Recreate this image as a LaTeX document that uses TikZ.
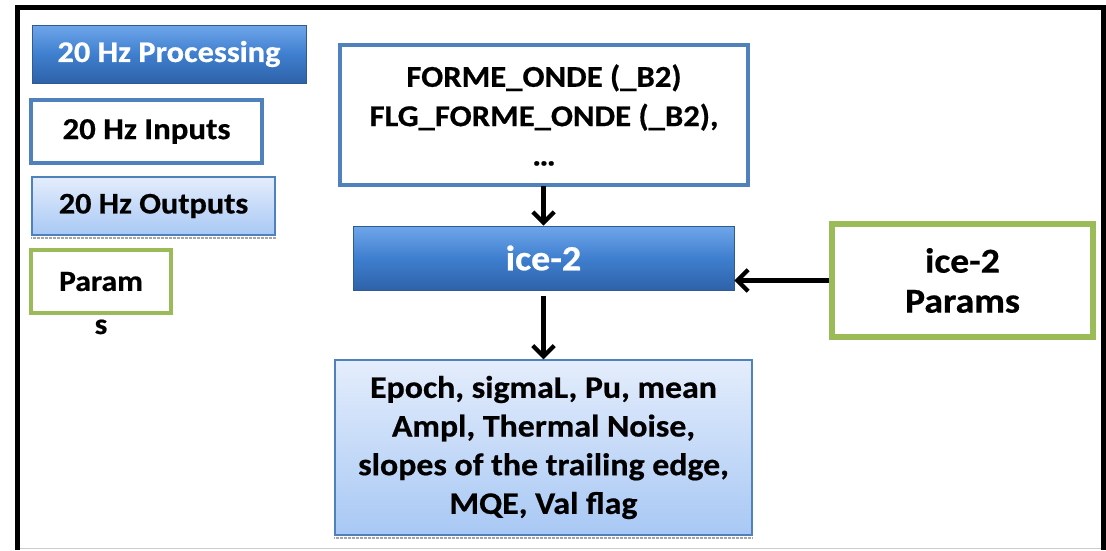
\documentclass[tikz,border=0pt]{standalone}
\usepackage{fontspec}
\setmainfont{Carlito}[BoldFeatures={FakeStretch=1.08,FakeBold=0.6}]
\usetikzlibrary{arrows.meta}
\definecolor{accblue}{HTML}{4F81BD}
\definecolor{accgreen}{HTML}{9BBB59}
\definecolor{proctop}{HTML}{6FA6EA}
\definecolor{procmid}{HTML}{3F7FCF}
\definecolor{procbot}{HTML}{2E62A8}
\definecolor{procedge}{HTML}{2F5A94}
\definecolor{outtop}{HTML}{E4EDFC}
\definecolor{outbot}{HTML}{A8C8F4}
\begin{document}
\begin{tikzpicture}[x=0.75pt,y=-0.75pt,
  procbox/.style={rectangle, draw=procedge, line width=0.6pt, top color=proctop, bottom color=procbot, middle color=procmid, text=white, inner sep=0pt, align=center},
  inbox/.style={rectangle, draw=accblue, line width=3pt, fill=white, inner sep=0pt, align=center},
  outbox/.style={rectangle, draw=accblue, line width=1pt, top color=outtop, bottom color=outbot, inner sep=0pt, align=center},
  parbox/.style={rectangle, draw=accgreen, line width=3.5pt, fill=white, inner sep=0pt, align=center},
  flow/.style={line width=3.2pt, -{Straight Barb[length=8pt,width=16pt]}},
  shadowline/.style={draw=gray!70, line width=1.5pt, dash pattern=on 0.6pt off 0.4pt},
  font=\bfseries]
\useasboundingbox (0,0) rectangle (1106,550);
% frame
\draw[gray!40, line width=1pt] (17.5,548.5) -- (1103.5,548.5);
\draw[black, line width=3.75pt] (17.5,550) -- (17.5,7.5) -- (1103.5,7.5) -- (1103.5,550);
% legend
\node[procbox, minimum width=205.5pt, minimum height=43.5pt, font=\bfseries\fontsize{22.5}{28}\selectfont] (proc) at (169,54) {20 Hz Processing};
\node[inbox, minimum width=173.25pt, minimum height=47.25pt, font=\bfseries\fontsize{22.8}{26}\selectfont] (inp) at (146.5,131.5) {20 Hz Inputs};
\node[outbox, minimum width=182.25pt, minimum height=43.5pt, font=\bfseries\fontsize{22.4}{26}\selectfont] (outp) at (153.5,206) {20 Hz Outputs};
\draw[shadowline] ([yshift=-1.6pt]outp.south west) -- ([yshift=-1.6pt]outp.south east);
\node[parbox, minimum width=105pt, minimum height=47.25pt, font=\bfseries\fontsize{22}{30}\selectfont] (par) at (101,281.5) {Param};
\node[font=\bfseries\fontsize{22}{30}\selectfont, anchor=base, inner sep=0pt] (pars) at (101,334) {s};
% main flow
\node[inbox, minimum width=306pt, minimum height=105pt, font=\bfseries\fontsize{22.7}{29.5}\selectfont] (in) at (544,115) {FORME\_ONDE (\_B2)\\FLG\_FORME\_ONDE (\_B2),\\…};
\node[procbox, minimum width=285.75pt, minimum height=48pt, font=\bfseries\fontsize{26.5}{32}\selectfont] (ice) at (543.5,258) {ice-2};
\node[outbox, minimum width=312.75pt, minimum height=131.25pt, font=\bfseries\fontsize{23.5}{29}\selectfont] (out) at (543.5,447.5) {Epoch, sigmaL, Pu, mean\\Ampl, Thermal Noise,\\slopes of the trailing edge,\\MQE, Val flag};
\draw[shadowline] ([yshift=-1.6pt]out.south west) -- ([yshift=-1.6pt]out.south east);
\node[parbox, minimum width=195.75pt, minimum height=84.75pt, line width=3.8pt, font=\bfseries\fontsize{26.2}{30}\selectfont] (ip) at (962.5,280.5) {ice-2\\Params};
% connectors
\draw[flow] (in.south -| ice.north) ++(0,-1) -- (ice.north);
\draw[flow] ([yshift=-4pt]ice.south) -- (out.north);
\draw[flow] (ip.west) -- (ip.west -| ice.east);
\end{tikzpicture}
\end{document}
